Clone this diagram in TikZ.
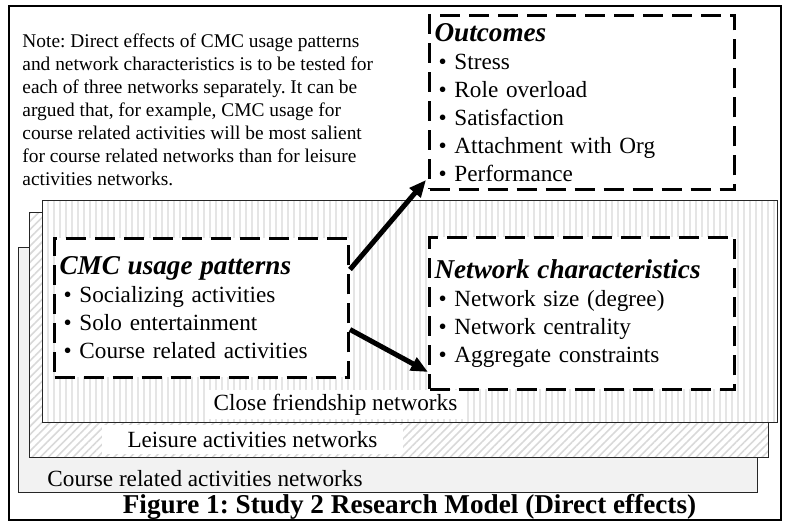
\documentclass[tikz,border=0pt]{standalone}
\usepackage{fontspec}
\setmainfont{Liberation Serif}
\usepackage{tikz}
\usetikzlibrary{positioning,calc}
\usetikzlibrary{arrows.meta, patterns.meta}
\frenchspacing

\newcommand{\blt}[1]{\hspace*{2pt}\makebox[8pt][l]{\textbullet}#1}
\newcommand{\hd}[1]{{\fontsize{13.6}{16}\selectfont\bfseries\itshape #1}}

\begin{document}
\begin{tikzpicture}[x=0.5pt, y=-0.5pt,
    layer/.style={draw=black!85, line width=0.5pt},
    dashbox/.style={draw, line width=1.5pt, dash pattern=on 10pt off 4.5pt, fill=white,
        anchor=north west, align=left, inner xsep=2.5pt, inner ysep=0pt,
        font=\fontsize{11.6}{14}\selectfont},
    lbl/.style={font=\fontsize{11.6}{14}\selectfont, inner ysep=0pt, minimum height=14.5pt},
    link/.style={-{Triangle[length=8.5pt,width=7pt]}, line width=2.5pt}]
    \useasboundingbox (0,0) rectangle (786,522);

    % Outer frame
    \draw[line width=0.6pt] (9,6) rectangle (781,520);

    % Note on top left
    \node (note) [anchor=north west, inner sep=0pt, align=left,
        font=\fontsize{9.7}{11.5}\selectfont] at (22,33) {Note: Direct effects of CMC usage patterns\\
        and network characteristics is to be tested for\\
        each of three networks separately. It can be\\
        argued that, for example, CMC usage for\\
        course related activities will be most salient\\
        for course related networks than for leisure\\
        activities networks.};

    % Stack of network layers
    \draw[layer, fill=black!5] (18,248) rectangle (757,493);
    \draw[layer, preaction={fill=white}, pattern={Lines[angle=45,distance=2.9pt,line width=0.8pt]},
        pattern color=black!15] (29,213) rectangle (768,458);
    \draw[layer, preaction={fill=white}, pattern={Lines[angle=90,distance=3pt,line width=1.3pt]},
        pattern color=black!10] (42,201) rectangle (777,423);

    \node (courselbl) [lbl] at (205,479) {Course related activities networks};
    \node (leislbl) [lbl, fill=white, inner xsep=13pt] at (252.5,440) {Leisure activities networks};
    \node (closelbl) [lbl, fill=white, inner xsep=3.5pt] at (335.5,404.5) {Close friendship networks};

    % Dashed boxes
    \node (outc) [dashbox, text width=147.5pt, minimum height=87pt] at (428,14)
        {\hd{Outcomes}\\ \blt{Stress}\\ \blt{Role overload}\\ \blt{Satisfaction}\\
         \blt{Attachment with Org}\\ \blt{Performance}};
    \node (cmc) [dashbox, text width=142pt, minimum height=69.5pt] at (53,237)
        {\hd{CMC usage patterns}\\ \blt{Socializing activities}\\ \blt{Solo entertainment}\\
         \blt{Course related activities}};
    \node (net) [dashbox, text width=147.5pt, minimum height=76pt] at (428,236)
        {\hd{Network characteristics}\\ \blt{Network size (degree)}\\ \blt{Network centrality}\\
         \blt{Aggregate constraints}};

    % Direct effects
    \draw[link] ([yshift=19.25pt]cmc.east) -- ([xshift=-1pt,yshift=5.5pt]outc.south west);
    \draw[link] ([yshift=-10.75pt]cmc.east) -- ([yshift=9.5pt]net.south west);

    % Caption
    \node (caption) [font=\fontsize{13.6}{16}\selectfont\bfseries] at (409.5,507)
        {Figure 1: Study 2 Research Model (Direct effects)};
\end{tikzpicture}
\end{document}
